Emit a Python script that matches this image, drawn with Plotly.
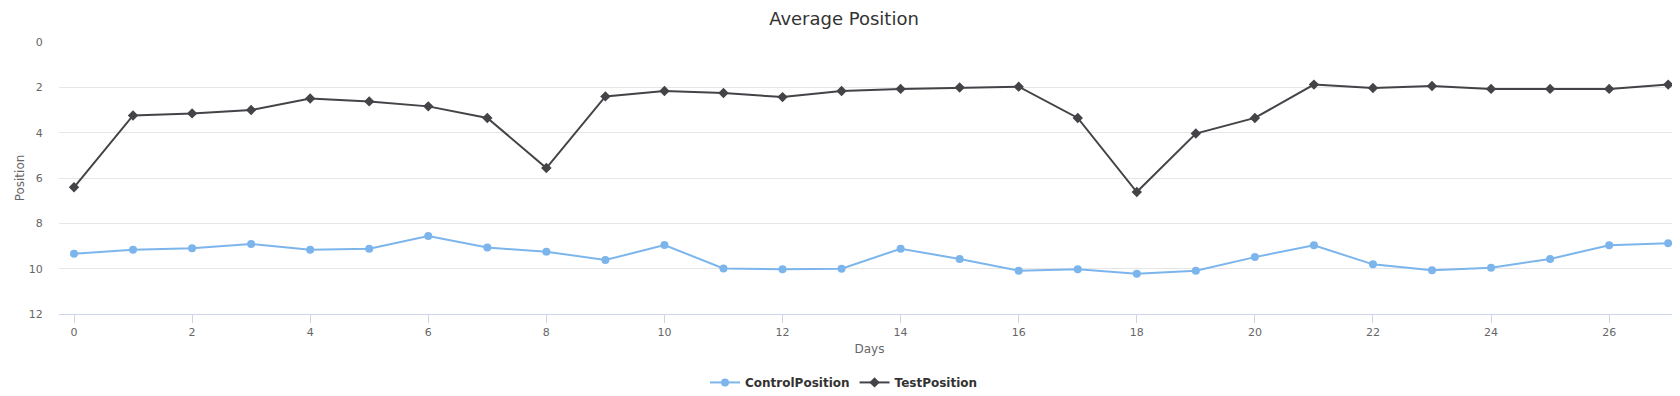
import plotly.graph_objects as go

days = list(range(28))
control_position = [9.34, 9.16, 9.10, 8.91, 9.16, 9.12, 8.56, 9.07, 9.25, 9.62,
                    8.96, 9.99, 10.03, 10.00, 9.12, 9.57, 10.09, 10.03, 10.22, 10.09,
                    9.49, 8.97, 9.81, 10.07, 9.96, 9.57, 8.97, 8.88]
test_position = [6.41, 3.24, 3.15, 3.00, 2.49, 2.62, 2.84, 3.35, 5.56, 2.40,
                 2.16, 2.25, 2.43, 2.16, 2.07, 2.01, 1.97, 3.35, 6.62, 4.04,
                 3.35, 1.88, 2.03, 1.94, 2.07, 2.07, 2.07, 1.88]
x_ticks = list(range(0, 28, 2))
y_ticks = [0, 2, 4, 6, 8, 10, 12]

FONT = "DejaVu Sans"

fig = go.Figure()
fig.add_trace(go.Scatter(
    x=days, y=control_position, name="ControlPosition", mode="lines+markers",
    line=dict(color="#7cb5ec", width=2),
    marker=dict(symbol="circle", size=8, color="#7cb5ec"),
))
fig.add_trace(go.Scatter(
    x=days, y=test_position, name="TestPosition", mode="lines+markers",
    line=dict(color="#434348", width=2),
    marker=dict(symbol="diamond", size=8, color="#434348"),
))

# page body has an 8px default margin, so the figure is 8px smaller and margins shifted
fig.update_layout(
    width=1672, height=388,
    margin=dict(l=51, r=0, t=34, b=82, autoexpand=False),
    paper_bgcolor="white", plot_bgcolor="white",
    font=dict(family=FONT, color="#666666", size=11),
    title=dict(text="Average Position", x=0.5, xanchor="center", y=0.972, yanchor="middle",
               font=dict(family=FONT, size=18, color="#333333")),
    showlegend=True,
    legend=dict(orientation="h", xref="container", yref="container", x=0.5, xanchor="center",
                y=0.035, yanchor="middle",
                font=dict(family=FONT, size=12, color="#333333", weight="bold"),
                itemwidth=30),
    xaxis=dict(
        range=[-0.254, 27.2], tickvals=x_ticks, showgrid=False, zeroline=False,
        showline=True, linecolor="#ccd6eb", linewidth=1, automargin=False,
        ticks="outside", ticklen=8, tickcolor="#ccd6eb",
        tickfont=dict(size=11, color="#666666"),
        title=dict(text="Days", font=dict(size=12, color="#666666"), standoff=6),
    ),
    yaxis=dict(
        range=[12, 0], tickvals=y_ticks, showgrid=True, gridcolor="#e6e6e6", zeroline=False,
        showline=False, ticks="outside", ticklen=13, tickcolor="rgba(0,0,0,0)", automargin=False,
        tickfont=dict(size=11, color="#666666"),
        title=dict(text="Position", font=dict(size=12, color="#666666"), standoff=1),
    ),
)

fig.write_html("out.html")
